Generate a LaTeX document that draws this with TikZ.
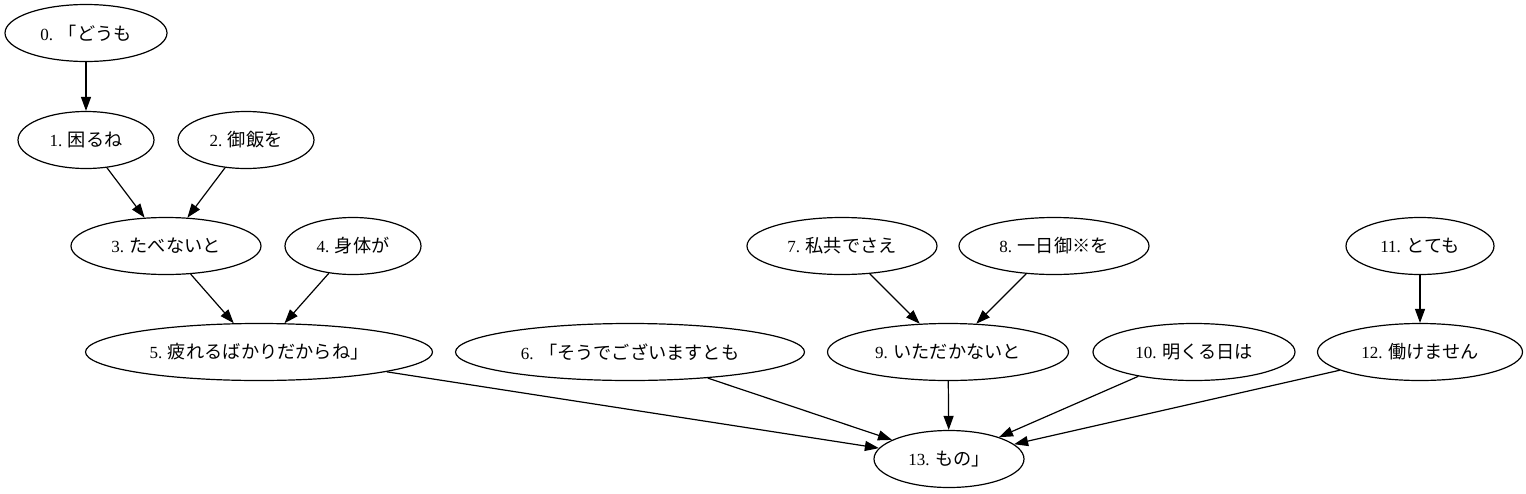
\documentclass[tikz,border=0pt]{standalone}
\usepackage{fontspec}
\setmainfont{Liberation Serif}
\newfontfamily\jp{Noto Sans CJK JP}[Scale=1.07]
\usetikzlibrary{shapes.geometric,arrows.meta}

\begin{document}
\begin{tikzpicture}[x=1pt, y=-1pt, line width=1.2pt,
      every node/.style={draw, ellipse, inner sep=0pt, minimum height=57pt,
                         font=\fontsize{17}{20}\selectfont},
      every edge/.style={draw, -{Triangle[length=14pt,width=10pt]}}
    ]
    \useasboundingbox (0,0) rectangle (1526,493);

    \node[minimum width=162pt] (w0) at (86,33) {0. {\jp 「どうも}};
    \node[minimum width=136pt] (w1) at (86,140) {1. {\jp 困るね}};
    \node[minimum width=136pt] (w2) at (246,140) {2. {\jp 御飯を}};
    \node[minimum width=190pt] (w3) at (166,246) {3. {\jp たべないと}};
    \node[minimum width=136pt] (w4) at (353,246) {4. {\jp 身体が}};
    \node[minimum width=347pt] (w5) at (259,352) {5. {\jp 疲れるばかりだからね」}};
    \node[minimum width=349pt] (w6) at (630,352) {6. {\jp 「そうでございますとも}};
    \node[minimum width=190pt] (w7) at (842,246) {7. {\jp 私共でさえ}};
    \node[minimum width=190pt] (w8) at (1054,246) {8. {\jp 一日御※を}};
    \node[minimum width=241pt] (w9) at (948,352) {9. {\jp いただかないと}};
    \node[minimum width=202pt] (w10) at (1194,352) {10. {\jp 明くる日は}};
    \node[minimum width=148pt] (w11) at (1420,246) {11. {\jp とても}};
    \node[minimum width=205pt] (w12) at (1420,352) {12. {\jp 働けません}};
    \node[minimum width=150pt] (w13) at (949,459) {13. {\jp もの」}};

    \draw (w0) edge (w1)
          (w1) edge (w3)
          (w2) edge (w3)
          (w3) edge (w5)
          (w4) edge (w5)
          (w7) edge (w9)
          (w8) edge (w9)
          (w11) edge (w12)
          (w5) edge (w13)
          (w6) edge (w13)
          (w9) edge (w13)
          (w10) edge (w13)
          (w12) edge (w13);
\end{tikzpicture}
\end{document}
